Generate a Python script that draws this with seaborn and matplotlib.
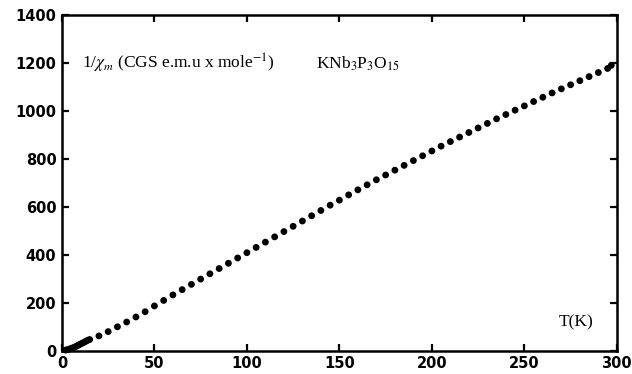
import matplotlib
matplotlib.use("Agg")
import matplotlib.pyplot as plt
import seaborn as sns
import pandas as pd

temperature_K = [2, 3, 4, 5, 6, 7, 8, 9, 10, 11, 12, 13, 14,
                 15, 20, 25, 30, 35, 40, 45, 50, 55, 60, 65, 70, 75, 80, 85, 90, 95,
                 100, 105, 110, 115, 120, 125, 130, 135, 140, 145, 150, 155, 160, 165,
                 170, 175, 180, 185, 190, 195, 200, 205, 210, 215, 220, 225, 230, 235,
                 240, 245, 250, 255, 260, 265, 270, 275, 280, 285, 290, 295, 297]
inv_chi = [3, 5, 7, 10, 13, 16, 20, 24, 28, 32, 36, 40, 44,
           47, 62, 80, 100, 120, 141, 163, 187, 210, 233, 255, 277, 299, 321, 343, 365, 387,
           409, 431, 453, 475, 497, 519, 541, 563, 585, 607, 628, 650, 671, 692,
           713, 733, 753, 773, 793, 813, 833, 853, 872, 891, 910, 929, 948, 967,
           985, 1003, 1021, 1039, 1057, 1075, 1092, 1109, 1126, 1143, 1160, 1177, 1190]

x_ticks = [0, 50, 100, 150, 200, 250, 300]
y_ticks = [0, 200, 400, 600, 800, 1000, 1200, 1400]

sns.set_theme(style="ticks")
plt.rcParams["mathtext.fontset"] = "stix"
plt.rcParams["text.color"] = "black"

df = pd.DataFrame({"T": temperature_K, "inv": inv_chi})

fig = plt.figure(figsize=(6.32, 3.74), dpi=100)
ax = fig.add_axes([0.098, 0.062, 0.878, 0.898])
sns.scatterplot(data=df, x="T", y="inv", ax=ax, color="black", s=24,
                edgecolor="none", linewidth=0, legend=False, clip_on=False)

ax.set_xlim(0, 300)
ax.set_ylim(0, 1400)
ax.set_xticks(x_ticks)
ax.set_yticks(y_ticks)
ax.set_xlabel("")
ax.set_ylabel("")
for sp in ax.spines.values():
    sp.set_visible(True)
    sp.set_linewidth(1.8)
    sp.set_color("black")
ax.tick_params(direction="in", length=5, width=1.6, top=True, right=True,
               labelsize=10.5, colors="black", pad=4)
for lab in ax.get_xticklabels() + ax.get_yticklabels():
    lab.set_fontweight("bold")
    lab.set_family("DejaVu Sans")

ax.text(0.036, 0.855, r"1/$\chi_m$ (CGS e.m.u x mole$^{-1}$)", transform=ax.transAxes,
        family="Liberation Serif", fontsize=12.5, color="black", va="center", ha="left")
ax.text(0.458, 0.855, r"KNb$_3$P$_3$O$_{15}$", transform=ax.transAxes,
        family="Liberation Serif", fontsize=12.5, color="black", va="center", ha="left")
ax.text(0.895, 0.085, "T(K)", transform=ax.transAxes,
        family="Liberation Serif", fontsize=12.5, color="black", va="center", ha="left")

fig.savefig("out.png", dpi=100, facecolor="white")
